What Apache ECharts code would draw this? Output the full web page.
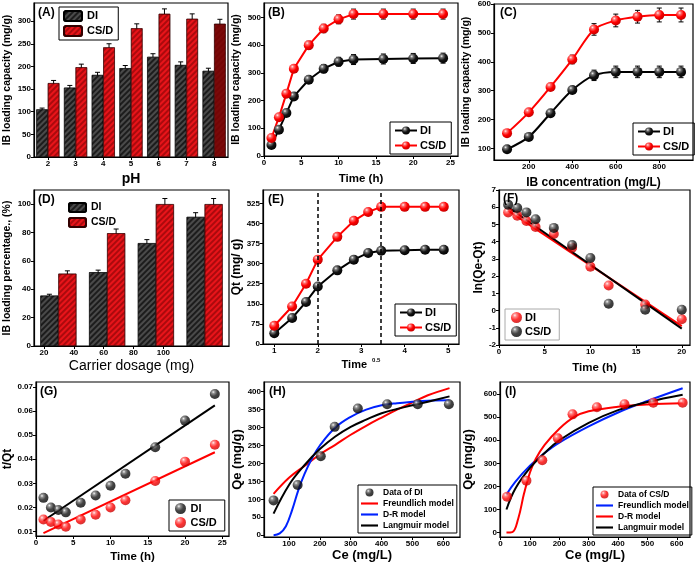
<!DOCTYPE html>
<html>
<head>
<meta charset="utf-8">
<script src="https://cdn.jsdelivr.net/npm/echarts@6/dist/echarts.min.js"></script>
<style>
  html, body { margin: 0; padding: 0; background: #fff; }
  #main { width: 697px; height: 568px; }
</style>
</head>
<body>
<div id="main"></div>
<script>
// ---- data ----
// (A) pH effect
const phCats = ['2', '3', '4', '5', '6', '7', '8'];
const phDI = [105, 153, 181, 196, 221, 203, 190];
const phCS = [163, 198, 242, 284, 316, 305, 294];
const phDIerr = [3, 5, 6, 6, 7, 7, 6];
const phCSerr = [6, 7, 8, 10, 11, 11, 10];
const phTicksY = [0, 50, 100, 150, 200, 250, 300];

// (B) contact time
const timeH = [1, 2, 3, 4, 6, 8, 10, 12, 16, 20, 24];
const timeDI = [40, 95, 155, 215, 275, 315, 340, 348, 350, 352, 353];
const timeCS = [65, 140, 225, 315, 400, 460, 493, 512, 512, 512, 512];
const timeDIerr = [5, 8, 10, 12, 13, 15, 16, 18, 18, 18, 18];
const timeCSerr = [6, 9, 10, 12, 14, 15, 16, 18, 18, 18, 18];
const timeTicksX = [0, 5, 10, 15, 20, 25];
const timeTicksY = [0, 100, 200, 300, 400, 500];

// (C) IB concentration
const concX = [100, 200, 300, 400, 500, 600, 700, 800, 900];
const concDI = [97, 140, 222, 302, 353, 365, 365, 365, 365];
const concCS = [153, 225, 313, 408, 512, 543, 556, 562, 562];
const concDIerr = [8, 10, 10, 12, 18, 20, 20, 20, 20];
const concCSerr = [10, 10, 12, 15, 20, 22, 22, 24, 24];
const concTicksX = [200, 400, 600, 800];
const concTicksY = [100, 200, 300, 400, 500, 600];

// (D) carrier dosage
const dosCats = ['20', '40', '60', '80'];
const dosDI = [35.5, 52, 72.5, 91];
const dosCS = [51, 79.5, 100, 100];
const dosDIerr = [1, 1.5, 2.5, 3];
const dosCSerr = [2, 3, 4, 4];
const dosTicksX = [20, 40, 60, 80, 100];
const dosTicksY = [0, 20, 40, 60, 80, 100];

// (E) intraparticle diffusion
const sqrtT = [1, 1.41, 1.73, 2, 2.45, 2.83, 3.16, 3.46, 4, 4.47, 4.9];
const eDI = [40, 97, 157, 215, 275, 315, 340, 348, 350, 352, 352];
const eCS = [68, 140, 225, 315, 400, 460, 493, 512, 512, 512, 512];
const eMarks = [2, 3.46];
const eTicksX = [1, 2, 3, 4, 5];
const eTicksY = [0, 75, 150, 225, 300, 375, 450, 525];

// (F) pseudo-first order
const fT = [1, 2, 3, 4, 6, 8, 10, 12, 16, 20];
const fDI = [5.7, 5.5, 5.2, 4.85, 4.45, 3.65, 2.55, 1.45, 0.35, -0.5];
const fCS = [6.15, 5.95, 5.7, 5.3, 4.8, 3.8, 3.05, 0.4, 0.05, 0.05];
const fFitDI = [[1, 5.8], [20, -0.9]];
const fFitCS = [[1, 6.0], [20, -1.05]];
const fTicksX = [0, 5, 10, 15, 20];
const fTicksY = [-2, -1, 0, 1, 2, 3, 4, 5, 6, 7];

// (G) pseudo-second order
const gDI = [0.024, 0.020, 0.019, 0.018, 0.022, 0.025, 0.029, 0.034, 0.045, 0.056, 0.067];
const gCS = [0.015, 0.014, 0.013, 0.012, 0.015, 0.017, 0.020, 0.023, 0.031, 0.039, 0.046];
const gFitDI = [[1, 0.0145], [24, 0.0623]];
const gFitCS = [[1, 0.0094], [24, 0.0429]];
const gTicksX = [0, 5, 10, 15, 20, 25];
const gTicksY = [0.01, 0.02, 0.03, 0.04, 0.05, 0.06, 0.07];

// (H) isotherms DI
const hCe = [50, 128, 203, 248, 323, 418, 517, 618];
const hQe = [97, 140, 220, 302, 353, 365, 365, 365];
const hFreundlich = [[50, 115], [100, 160], [150, 193], [200, 225], [250, 252], [300, 280], [350, 305], [400, 328], [450, 350], [500, 370], [550, 390], [620, 410]];
const hDR = [[50, 0], [70, 5], [90, 25], [110, 70], [130, 125], [150, 170], [175, 215], [200, 250], [250, 300], [300, 330], [350, 350], [400, 362], [450, 368], [500, 372], [550, 375], [620, 376]];
const hLangmuir = [[50, 60], [100, 140], [150, 195], [200, 240], [250, 275], [300, 302], [350, 322], [400, 340], [450, 352], [500, 362], [550, 372], [620, 387]];
const hTicksX = [100, 200, 300, 400, 500, 600];
const hTicksY = [0, 50, 100, 150, 200, 250, 300, 350, 400];

// (I) isotherms CS/D
const iCe = [22, 88, 142, 195, 245, 328, 422, 520, 620];
const iQe = [155, 225, 313, 408, 512, 543, 556, 562, 562];
const iFreundlich = [[20, 165], [50, 220], [100, 290], [150, 345], [200, 390], [300, 460], [400, 520], [500, 570], [620, 625]];
const iDR = [[20, 0], [40, 2], [60, 60], [80, 170], [100, 260], [120, 320], [150, 380], [200, 450], [250, 500], [300, 525], [400, 545], [500, 555], [620, 560]];
const iLangmuir = [[20, 100], [50, 190], [100, 280], [150, 345], [200, 400], [300, 475], [400, 530], [500, 565], [620, 597]];
const iTicksX = [0, 100, 200, 300, 400, 500, 600];
const iTicksY = [0, 100, 200, 300, 400, 500, 600];

// ---- styles ----
const FONT = 'Arial, "Liberation Sans", sans-serif';
const BLACK_BALL = { type: 'radial', x: 0.35, y: 0.3, r: 0.75, colorStops: [
  { offset: 0, color: '#f4f4f4' }, { offset: 0.2, color: '#777' }, { offset: 0.55, color: '#151515' }, { offset: 1, color: '#000' }] };
const RED_BALL = { type: 'radial', x: 0.35, y: 0.3, r: 0.75, colorStops: [
  { offset: 0, color: '#fff0f0' }, { offset: 0.2, color: '#ff7070' }, { offset: 0.55, color: '#ff0000' }, { offset: 1, color: '#c00000' }] };
const decalDark = { symbol: 'rect', symbolSize: 1, dashArrayX: [1, 0], dashArrayY: [1.5, 2], rotation: -Math.PI / 4, color: 'rgba(130,130,130,0.45)' };
const decalRed = { symbol: 'rect', symbolSize: 1, dashArrayX: [1, 0], dashArrayY: [1.5, 2], rotation: -Math.PI / 4, color: 'rgba(110,0,0,0.5)' };
const LINE_ICON = 'path://M0,0H24V3H0Z';

const grids = [], xAxes = [], yAxes = [], series = [], legends = [];

function addGrid(left, top, width, height) {
  grids.push({ left, top, width, height, show: true, borderColor: '#000', borderWidth: 1.2, backgroundColor: 'transparent' });
  return grids.length - 1;
}

function valAxis(gi, min, max, ticks, name, gap, fs, fmt) {
  return {
    type: 'value', gridIndex: gi, min, max, name, nameGap: gap, nameLocation: 'middle',
    nameTextStyle: { color: '#000', fontWeight: 'bold', fontFamily: FONT, fontSize: fs },
    axisLine: { show: true, onZero: false, lineStyle: { color: '#000', width: 1.2 } },
    axisTick: { show: true, length: 3, customValues: ticks, lineStyle: { color: '#000', width: 1 } },
    axisLabel: { color: '#000', fontSize: 8, fontWeight: 'bold', fontFamily: FONT, margin: 3, customValues: ticks, formatter: fmt },
    splitLine: { show: false }
  };
}

function catAxis(gi, cats, name, gap, fs) {
  return {
    type: 'category', gridIndex: gi, data: cats, name, nameGap: gap, nameLocation: 'middle',
    nameTextStyle: { color: '#000', fontWeight: 'bold', fontFamily: FONT, fontSize: fs },
    axisLine: { show: true, lineStyle: { color: '#000', width: 1.2 } },
    axisTick: { show: true, length: 3, alignWithLabel: true, lineStyle: { color: '#000' } },
    axisLabel: { color: '#000', fontSize: 8, fontWeight: 'bold', fontFamily: FONT, margin: 3 },
    splitLine: { show: false }
  };
}

function addAxes(x, y) {
  xAxes.push(x); yAxes.push(y);
  return [xAxes.length - 1, yAxes.length - 1];
}

// error bars drawn through the axes
function errSeries(ax, xs, vals, errs, offset) {
  return {
    type: 'custom', xAxisIndex: ax[0], yAxisIndex: ax[1], silent: true, z: 1,
    data: xs.map((x, i) => [x, vals[i] - errs[i], vals[i] + errs[i]]),
    encode: { x: 0, y: [1, 2] },
    renderItem: (p, api) => {
      const lo = api.coord([api.value(0), api.value(1)]);
      const hi = api.coord([api.value(0), api.value(2)]);
      const x = lo[0] + offset, c = 2.5;
      const st = { stroke: '#000', lineWidth: 1 };
      return { type: 'group', children: [
        { type: 'line', shape: { x1: x, y1: lo[1], x2: x, y2: hi[1] }, style: st },
        { type: 'line', shape: { x1: x - c, y1: lo[1], x2: x + c, y2: lo[1] }, style: st },
        { type: 'line', shape: { x1: x - c, y1: hi[1], x2: x + c, y2: hi[1] }, style: st }
      ] };
    }
  };
}

function pairs(xs, ys) { return xs.map((x, i) => [x, ys[i]]); }

function lineSeries(name, ax, data, color, ball, size, smooth) {
  return {
    name, type: 'line', xAxisIndex: ax[0], yAxisIndex: ax[1], data, smooth: smooth || false,
    symbol: 'circle', symbolSize: size, z: 3,
    lineStyle: { color, width: 2 }, itemStyle: { color: ball }
  };
}

function scatterSeries(name, ax, data, ball, size) {
  return { name, type: 'scatter', xAxisIndex: ax[0], yAxisIndex: ax[1], data, symbolSize: size, z: 4, itemStyle: { color: ball } };
}

function fitSeries(name, ax, data, color, smooth) {
  return { name, type: 'line', xAxisIndex: ax[0], yAxisIndex: ax[1], data, smooth: smooth || false, showSymbol: false, symbol: 'none', z: 2,
    lineStyle: { color, width: 2 }, itemStyle: { color } };
}

function addLegend(names, left, top, opts) {
  legends.push(Object.assign({
    data: names, left, top, orient: 'vertical', selectedMode: false,
    borderColor: '#000', borderWidth: 1, padding: [3, 5, 3, 4], itemGap: 4,
    itemWidth: 22, itemHeight: 10,
    formatter: n => n.split('#')[0],
    textStyle: { color: '#000', fontWeight: 'bold', fontFamily: FONT, fontSize: 11, padding: [0, 0, 0, -2] }
  }, opts || {}));
}

// ---- (A) ----
let g = addGrid(34, 3, 194, 154);
let ax = addAxes(catAxis(g, phCats, 'pH', 15, 14),
  valAxis(g, 0, 340, phTicksY, 'IB loading capacity (mg/g)', 21, 10.5));
series.push({ name: 'DI#A', type: 'bar', xAxisIndex: ax[0], yAxisIndex: ax[1], data: phDI, barWidth: 11.5, barGap: '0%',
  itemStyle: { color: '#1c1c1c', borderColor: '#000', borderWidth: 0.5, decal: decalDark } });
series.push({ name: 'CS/D#A', type: 'bar', xAxisIndex: ax[0], yAxisIndex: ax[1], barWidth: 11.5,
  data: phCS.map((v, i) => i === phCS.length - 1 ? { value: v, itemStyle: { color: '#7a0a0a' } } : v),
  itemStyle: { color: '#e8141a', borderColor: '#300', borderWidth: 0.5, decal: decalRed } });
series.push(errSeries(ax, phCats.map((c, i) => i), phDI, phDIerr, -5.75));
series.push(errSeries(ax, phCats.map((c, i) => i), phCS, phCSerr, 5.75));
addLegend(['DI#A', 'CS/D#A'], 59, 7, { itemWidth: 18, itemHeight: 10, itemGap: 3, textStyle: { color: '#000', fontWeight: 'bold', fontFamily: FONT, fontSize: 11 } });

// ---- (B) ----
g = addGrid(264, 3, 194, 153);
ax = addAxes(valAxis(g, 0, 26, timeTicksX, 'Time (h)', 17, 11.5),
  valAxis(g, 0, 552, timeTicksY, 'IB loading capacity (mg/g)', 22, 10.5));
series.push(errSeries(ax, timeH, timeDI, timeDIerr, 0));
series.push(errSeries(ax, timeH, timeCS, timeCSerr, 0));
series.push(lineSeries('DI#B', ax, pairs(timeH, timeDI), '#000', BLACK_BALL, 10));
series.push(lineSeries('CS/D#B', ax, pairs(timeH, timeCS), '#f00', RED_BALL, 10));
addLegend(['DI#B', 'CS/D#B'], 390, 122);

// ---- (C) ----
g = addGrid(494, 3, 199, 157);
ax = addAxes(valAxis(g, 40, 955, concTicksX, 'IB concentration (mg/L)', 17, 12),
  valAxis(g, 60, 600, concTicksY, 'IB loading capacity (mg/g)', 22, 10.5));
series.push(errSeries(ax, concX, concDI, concDIerr, 0));
series.push(errSeries(ax, concX, concCS, concCSerr, 0));
series.push(lineSeries('DI#C', ax, pairs(concX, concDI), '#000', BLACK_BALL, 10, 0.3));
series.push(lineSeries('CS/D#C', ax, pairs(concX, concCS), '#f00', RED_BALL, 10, 0.3));
addLegend(['DI#C', 'CS/D#C'], 633, 123);

// ---- (D) ----
g = addGrid(34, 190, 195, 156);
const dCat = catAxis(g, dosCats, '', 0, 12);
dCat.axisLabel.show = false; dCat.axisTick.show = false;
ax = addAxes(dCat, valAxis(g, 0, 110, dosTicksY, 'IB loading percentage., (%)', 21, 10.5));
const dVal = valAxis(g, 13.3, 144, dosTicksX, 'Carrier dosage (mg)', 13, 14);
dVal.position = 'bottom';
dVal.axisLine.show = false; dVal.nameTextStyle.fontWeight = 'normal';
xAxes.push(dVal);
series.push({ name: 'DI#D', type: 'bar', xAxisIndex: ax[0], yAxisIndex: ax[1], data: dosDI, barWidth: 18, barGap: '0%',
  itemStyle: { color: '#1c1c1c', borderColor: '#000', borderWidth: 0.5, decal: decalDark } });
series.push({ name: 'CS/D#D', type: 'bar', xAxisIndex: ax[0], yAxisIndex: ax[1], data: dosCS, barWidth: 18,
  itemStyle: { color: '#e8141a', borderColor: '#300', borderWidth: 0.5, decal: decalRed } });
series.push(errSeries(ax, dosCats.map((c, i) => i), dosDI, dosDIerr, -9));
series.push(errSeries(ax, dosCats.map((c, i) => i), dosCS, dosCSerr, 9));
addLegend(['DI#D', 'CS/D#D'], 64, 199, { borderWidth: 0, itemWidth: 17, itemHeight: 9, itemGap: 4,
  textStyle: { color: '#000', fontWeight: 'bold', fontFamily: FONT, fontSize: 10.5 } });

// ---- (E) ----
g = addGrid(263, 190, 196, 154);
const eX = valAxis(g, 0.74, 5.25, eTicksX, 'Time {s|0.5}', 13, 11);
eX.nameTextStyle.rich = { s: { fontSize: 6, fontWeight: 'bold', fontFamily: FONT, color: '#000', verticalAlign: 'top', padding: [0, 0, 9, 2] } };
ax = addAxes(eX, valAxis(g, 0, 575, eTicksY, 'Qt (mg/ g)', 20, 12));
const eDIs = lineSeries('DI#E', ax, pairs(sqrtT, eDI), '#000', BLACK_BALL, 10);
eDIs.markLine = { silent: true, symbol: 'none', label: { show: false },
  lineStyle: { color: '#000', type: [4, 3], width: 1.5 }, data: eMarks.map(v => ({ xAxis: v })) };
series.push(eDIs);
series.push(lineSeries('CS/D#E', ax, pairs(sqrtT, eCS), '#f00', RED_BALL, 10));
addLegend(['DI#E', 'CS/D#E'], 395, 304);

// ---- (F) ----
g = addGrid(499, 190, 191, 155);
ax = addAxes(valAxis(g, 0, 20.9, fTicksX, 'Time (h)', 17, 11.5),
  valAxis(g, -2, 7, fTicksY, 'ln(Qe-Qt)', 9, 12));
series.push(fitSeries('fitDI#F', ax, fFitDI, '#f00'));
series.push(fitSeries('fitCS#F', ax, fFitCS, '#000'));
series.push(scatterSeries('DI#F', ax, pairs(fT, fDI), RED_BALL, 10));
series.push(scatterSeries('CS/D#F', ax, pairs(fT, fCS), BLACK_BALL, 10));
addLegend(['DI#F', 'CS/D#F'], 505, 309, { borderColor: '#aaa', itemWidth: 11, itemHeight: 11, itemGap: 3, padding: [3, 8, 3, 6] });

// ---- (G) ----
g = addGrid(36, 382, 193, 154);
ax = addAxes(valAxis(g, 0, 25.9, gTicksX, 'Time (h)', 15, 11.5),
  valAxis(g, 0.0082, 0.072, gTicksY, 't/Qt', 22, 12, v => v.toFixed(2)));
series.push(fitSeries('fitDI#G', ax, gFitDI, '#000'));
series.push(fitSeries('fitCS#G', ax, gFitCS, '#f00'));
series.push(scatterSeries('DI#G', ax, pairs(timeH, gDI), BLACK_BALL, 10));
series.push(scatterSeries('CS/D#G', ax, pairs(timeH, gCS), RED_BALL, 10));
addLegend(['DI#G', 'CS/D#G'], 169, 500, { itemWidth: 14, itemHeight: 11, itemGap: 3, padding: [3, 8, 3, 6] });

// ---- (H) ----
g = addGrid(264, 382, 196, 155);
ax = addAxes(valAxis(g, 19, 654, hTicksX, 'Ce (mg/L)', 12, 13),
  valAxis(g, -5, 427, hTicksY, 'Qe (mg/g)', 20, 13));
series.push(fitSeries('Freundlich model#H', ax, hFreundlich, '#f00', 0.4));
series.push(fitSeries('D-R model#H', ax, hDR, '#0022ff', 0.4));
series.push(fitSeries('Langmuir model#H', ax, hLangmuir, '#000', 0.4));
series.push(scatterSeries('Data of DI#H', ax, pairs(hCe, hQe), BLACK_BALL, 10));
addLegend([{ name: 'Data of DI#H' }, { name: 'Freundlich model#H', icon: LINE_ICON }, { name: 'D-R model#H', icon: LINE_ICON }, { name: 'Langmuir model#H', icon: LINE_ICON }], 358, 485,
  { itemWidth: 17, itemHeight: 8, itemGap: 2, padding: [3, 3, 3, 3], textStyle: { color: '#000', fontWeight: 'bold', fontFamily: FONT, fontSize: 8.5 } });

// ---- (I) ----
g = addGrid(500, 382, 190, 155);
ax = addAxes(valAxis(g, -2, 645, iTicksX, 'Ce (mg/L)', 12, 13),
  valAxis(g, -19, 652, iTicksY, 'Qe (mg/g)', 25, 13));
series.push(fitSeries('Freundlich model#I', ax, iFreundlich, '#0022ff', 0.4));
series.push(fitSeries('D-R model#I', ax, iDR, '#f00', 0.4));
series.push(fitSeries('Langmuir model#I', ax, iLangmuir, '#000', 0.4));
series.push(scatterSeries('Data of CS/D#I', ax, pairs(iCe, iQe), RED_BALL, 10));
addLegend([{ name: 'Data of CS/D#I' }, { name: 'Freundlich model#I', icon: LINE_ICON }, { name: 'D-R model#I', icon: LINE_ICON }, { name: 'Langmuir model#I', icon: LINE_ICON }], 593, 487,
  { itemWidth: 17, itemHeight: 8, itemGap: 2, padding: [3, 3, 3, 3], textStyle: { color: '#000', fontWeight: 'bold', fontFamily: FONT, fontSize: 8.5 } });

// panel letters
const letters = [['(A)', 38, 7], ['(B)', 268, 7], ['(C)', 500, 7], ['(D)', 38, 194], ['(E)', 268, 194],
  ['(F)', 503, 193], ['(G)', 40, 386], ['(H)', 269, 386], ['(I)', 505, 386]];

const myChart = echarts.init(document.getElementById('main'), null, { renderer: 'canvas' });
myChart.setOption({
  backgroundColor: '#fff',
  animation: false,
  grid: grids,
  xAxis: xAxes,
  yAxis: yAxes,
  legend: legends,
  series: series,
  graphic: letters.map(([t, x, y]) => ({
    type: 'text', left: x, top: y, z: 10,
    style: { text: t, fill: '#000', font: 'bold 12px ' + FONT }
  }))
});
</script>
</body>
</html>
